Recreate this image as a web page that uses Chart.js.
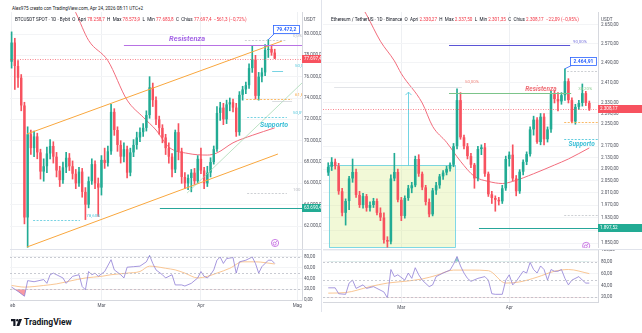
<!DOCTYPE html>
<html lang="it">
<head>
<meta charset="utf-8">
<title>BTCUSDT / ETHUSDT 1D</title>
<script src="https://cdn.jsdelivr.net/npm/chart.js@4.4.1/dist/chart.umd.min.js"></script>
<style>
  html, body { margin: 0; padding: 0; background: #fff; }
  body { width: 642px; height: 333px; position: relative; overflow: hidden; font-family: Roboto, "Noto Sans", sans-serif; color: #131722; }
  canvas { position: absolute; }
  .txt { position: absolute; white-space: nowrap; font-size: 4.6px; line-height: 6px; z-index: 5; }
  .dn { color: #f23645; }
  .sep { position: absolute; background: #e0e3eb; z-index: 4; }
  .logo { position: absolute; left: 11px; top: 317px; display: flex; align-items: center; gap: 2px; font-weight: 700; font-size: 8.5px; z-index: 5; }
</style>
</head>
<body>
<canvas id="btcPrice" width="311" height="238" style="left:10px;top:12px"></canvas>
<canvas id="btcRsi" width="311" height="60" style="left:10px;top:250px"></canvas>
<canvas id="ethPrice" width="319" height="236" style="left:323px;top:12px"></canvas>
<canvas id="ethRsi" width="319" height="62" style="left:323px;top:250px"></canvas>

<div class="sep" style="left:10px;top:249px;width:311px;height:1px"></div>
<div class="sep" style="left:323px;top:249px;width:319px;height:1px"></div>
<div class="sep" style="left:321px;top:0;width:1px;height:312px"></div>

<div class="txt" style="left:12px;top:6px">Alex975 creato con TradingView.com, Apr 24, 2026 08:11 UTC+2</div>
<div class="txt" style="left:15px;top:17px">BTCUSDT SPOT · 1D · Bybit &nbsp;O&nbsp; Apri <span class="dn">78.258,7</span> &nbsp;H&nbsp; Max <span class="dn">78.573,9</span> &nbsp;L&nbsp; Min <span class="dn">77.683,8</span> &nbsp;C&nbsp; Chius <span class="dn">77.697,4 &nbsp;−561,3 (−0,72%)</span></div>
<div class="txt" style="left:331px;top:17px">Ethereum / TetherUS · 1D · Binance &nbsp;O&nbsp; Apri <span class="dn">2.330,27</span> &nbsp;H&nbsp; Max <span class="dn">2.337,50</span> &nbsp;L&nbsp; Min <span class="dn">2.301,35</span> &nbsp;C&nbsp; Chius <span class="dn">2.308,17 &nbsp;−22,09 (−0,95%)</span></div>
<div class="txt" style="left:304px;top:17px;color:#50535e">USDT</div>
<div class="txt" style="left:601px;top:17px;color:#50535e">USDT</div>
<div class="logo">
  <svg width="11" height="7" viewBox="0 0 11 7"><path d="M0 0h4.5v7H2.3V2.2H0z M8 0h3L8.3 7H5.4z" fill="#131722"/><circle cx="6.3" cy="1.2" r="1.2" fill="#131722"/></svg>
  <span>TradingView</span>
</div>

<script>
const FONT = 'Roboto, "Noto Sans", sans-serif';
const UP = '#22ab94';
const DOWN = '#f7525f';
const AXIS_TEXT = '#50535e';

// ---------- BTCUSDT (Bybit, 1D) ----------
const btcFirstDay = '2026-02-01';
const btcDayCount = 91;
const btcOpen = [77400,79200,77000,75900,73300,62800,70600,69300,70400,68900,67100,67600,68800,69500,68500,67200,66300,67500,68400,67600,66900,66000,67100,65200,64000,66200,67800,66000,65600,68200,67900,69000,72700,71000,69600,68500,69200,67000,68900,69600,70300,70800,71200,72400,75000,73800,72000,71200,70300,69300,68500,67300,70800,69000,66600,66000,66500,67000,66200,68300,67200,66000,67000,68000,69200,72600,73100,72000,73400,73600,73100,70800,74300,74800,75200,76800,77600,74200,76000,76400,78500,78600,78258.7];
const btcHigh = [80200,79600,77500,76200,73600,71300,71000,70900,70700,69200,68300,69400,70100,69900,68900,67600,68000,68900,68800,68100,67300,67500,67400,65600,66600,68300,68100,66500,68600,69300,69500,73400,73000,71300,70000,69800,69500,69300,70100,70800,71200,71600,72800,76000,75400,74100,72300,71500,70600,69800,68800,71000,71600,69300,67000,66800,67300,67400,68600,69300,67500,67600,68400,69500,73200,73600,73500,73800,74000,73900,73500,74600,75100,75500,77200,78900,78000,76400,76800,79000,79472.2,78900,78573.9];
const btcLow = [76800,74800,75000,72800,62200,60000,68700,68500,68300,66400,66200,67000,68300,67900,66600,65700,66000,67000,67200,66400,65500,65700,64700,62600,63700,65900,65500,62900,64900,67400,67600,68700,70500,69000,67900,68000,66500,66700,68500,69200,69900,70400,70900,72100,73200,71500,70600,69800,68700,67900,66600,67000,68200,66000,65500,65400,65200,65900,66000,66900,65500,65700,66600,67800,69000,71900,71500,71600,72800,72700,70400,70500,73800,74400,74900,76400,73900,73800,75500,76100,77800,78000,77683.8];
const btcClose = [79200,77000,75900,73300,62800,70600,69300,70400,68900,67100,67600,68800,69500,68500,67200,66300,67500,68400,67600,66900,66000,67100,65200,64000,66200,67800,66000,65600,68200,67900,69000,72700,71000,69600,68500,69200,67000,68900,69600,70300,70800,71200,72400,75000,73800,72000,71200,70300,69300,68500,67300,70800,69000,66600,66000,66500,67000,66200,68300,67200,66000,67000,68000,69200,72600,73100,72000,73400,73600,73100,70800,74300,74800,75200,76800,77600,74200,76000,76400,78500,78600,78258.7,77697.4];
const btcEmaDay = [14,20,24,30,36,41,45,49,55,61,64,69,75,82];
const btcEmaVal = [85500,82000,79400,77500,73800,72200,71000,69400,68800,68650,68850,69800,70500,71200];
const btcRsiDay = [0,2,4,5,7,10,11,12,13,16,17,19,21,22,23,24,25,26,27,29,31,32,34,35,36,38,40,42,43,44,45,47,48,50,51,53,54,56,58,59,60,61,62,63,64,65,66,67,69,70,71,73,75,76,77,78,80,81,82];
const btcRsiVal = [24,16,7,36,34,38,31,47,50,41,31,44,47,25,19,53,47,50,44,53,75,56,47,41,61,62,63,71,83,68,56,47,41,47,28,28,26,31,41,53,44,41,47,56,74,80,68,77,79,50,71,74,80,68,50,62,74,74,68];
const btcRsiMaDay = [0,4,7,10,14,18,23,28,31,36,40,43,45,48,51,54,58,61,64,68,72,76,82];
const btcRsiMaVal = [27,24,25,27,30,35,41,44,47,50,53,63,62,59,56,50,41,44,50,59,71,71,67];
const btcPriceTicks = [62000,64000,66000,68000,70000,72000,74000,76000,78000,80000];
const btcRsiTicks = [0,20,40,60,80];
const btcMonthDay = [0,28,59,89];
const btcMonthName = ['Feb','Mar','Apr','Mag'];

// ---------- ETHUSDT (Binance, 1D) ----------
const ethFirstDay = '2026-02-07';
const ethDayCount = 79;
const ethFirstBar = 1;
const ethOpen = [2078,2098,2115,2100,2015,1945,1983,2058,2080,2003,1970,1999,1961,1970,1983,1945,1930,1860,1855,2058,2080,1987,1935,1993,2025,2035,2125,2074,2028,1980,1940,2018,2035,2065,2078,2091,2105,2170,2341,2202,2170,2135,2105,2058,2160,2166,2074,2005,1993,1987,1982,2025,2125,2140,2058,2015,2081,2115,2142,2231,2267,2185,2278,2195,2231,2364,2345,2336,2360,2415,2341,2260,2315,2330,2368,2330.27];
const ethHigh = [2112,2130,2125,2110,2025,1990,2065,2125,2090,2015,2008,2005,1980,1992,1990,1961,1945,1870,2070,2145,2090,1995,2000,2035,2045,2135,2140,2080,2035,1990,2025,2045,2072,2085,2100,2112,2180,2385,2370,2210,2180,2145,2110,2170,2175,2180,2080,2015,2000,1995,2035,2135,2150,2175,2068,2088,2122,2150,2240,2280,2275,2290,2290,2240,2375,2378,2370,2370,2464.91,2425,2350,2325,2340,2404,2375,2337.5];
const ethLow = [2068,2085,2090,2005,1935,1906,1955,2045,1995,1962,1960,1950,1950,1962,1938,1920,1850,1838,1848,2050,1980,1920,1928,1985,2010,2030,2065,2020,1970,1932,1935,2005,2025,2055,2070,2083,2098,2160,2195,2160,2125,2095,2025,2050,2140,2065,1998,1975,1950,1970,1975,2018,2100,2050,2000,2008,2070,2105,2135,2210,2180,2175,2175,2185,2220,2330,2300,2325,2340,2330,2255,2250,2305,2318,2320,2301.35];
const ethClose = [2098,2115,2100,2015,1945,1983,2058,2080,2003,1970,1999,1961,1970,1983,1945,1930,1860,1855,2058,2080,1987,1935,1993,2025,2035,2125,2074,2028,1980,1940,2018,2035,2065,2078,2091,2105,2170,2341,2202,2170,2135,2105,2058,2160,2166,2074,2005,1993,1987,1982,2025,2125,2140,2058,2015,2081,2115,2142,2231,2267,2185,2278,2195,2231,2364,2345,2336,2360,2415,2341,2260,2315,2330,2368,2330.27,2308.17];
const ethEmaDay = [8,12,16,20,22,28,31,35,39,43,47,51,54,60,66,70,76];
const ethEmaVal = [2800,2694,2579,2497,2445,2330,2242,2184,2117,2065,2048,2041,2048,2074,2104,2125,2164];
const ethRsiDay = [1,3,4,6,7,8,9,11,12,14,15,17,18,19,20,21,23,24,25,26,27,28,30,31,32,34,36,37,38,39,40,41,42,44,46,47,48,49,51,52,53,54,55,57,58,59,60,61,62,63,64,65,66,67,68,69,70,71,73,74,75,76];
const ethRsiVal = [36,36,26,25,44,49,35,41,35,38,35,29,19,67,55,58,49,61,52,70,58,49,38,41,55,61,66,76,89,73,61,52,47,52,55,49,26,25,25,49,58,41,47,64,61,79,67,61,73,67,49,67,64,64,67,52,41,49,55,49,44,44];
const ethRsiMaDay = [1,6,13,18,23,28,32,37,42,47,52,56,61,66,70,76];
const ethRsiMaVal = [27,28,38,44,47,51,57,66,66,65,44,46,54,64,67,60];
const ethPriceTicks = [1850,1890,1930,1970,2010,2050,2090,2130,2170,2250,2290,2330,2410,2490,2570,2650];
const ethRsiTicks = [20,40,60,80,100];
const ethMonthDay = [22,53];
const ethMonthName = ['Mar','Apr'];

// drawings on top of each pane, in (day index, price) coordinates
const btcMarks = [
  { kind: 'seg', x1: 4.8, y1: 70625, x2: 84.3, y2: 79344, color: '#f9a73e', width: 1 },
  { kind: 'seg', x1: 4.8, y1: 60031, x2: 83.0, y2: 68750, color: '#f9a73e', width: 1 },
  { kind: 'seg', x1: 54.7, y1: 65094, x2: 90.5, y2: 75406, color: '#9fd6aa', width: 0.7 },
  { kind: 'hline', y: 78969, x1: 35, color: '#b872e4', width: 1 },
  { kind: 'text', x: 54.7, y: 79480, text: 'Resistenza', color: '#a566e6', font: 'italic bold 7.5px ' + FONT, align: 'center' },
  { kind: 'hline', y: 63690.4, x1: 46.2, color: '#26a69a', width: 1.1 },
  { kind: 'hline', y: 62563, x1: 6.7, x2: 21.3, color: '#55c8dc', width: 0.8, dash: [2, 1.5] },
  { kind: 'text', x: 23.3, y: 62940, text: '78,60%', color: '#55c8dc', font: '4.4px ' + FONT },
  { kind: 'hline', y: 65094, x1: 73.4, x2: 85.8, color: '#b8bbc2', width: 0.7, dash: [2, 1.5] },
  { kind: 'text', x: 87.7, y: 65400, text: '100', color: '#b8bbc2', font: '4.4px ' + FONT },
  { kind: 'hline', y: 79438, x1: 72.7, x2: 85.8, color: '#b8bbc2', width: 0.7, dash: [2, 1.5] },
  { kind: 'text', x: 87.7, y: 79800, text: '0,0%', color: '#b8bbc2', font: '4.4px ' + FONT },
  { kind: 'hline', y: 76531, x1: 81.2, x2: 84.6, color: '#55c8dc', width: 0.8 },
  { kind: 'text', x: 88.3, y: 77000, text: '50,0%', color: '#55c8dc', font: '4.4px ' + FONT },
  { kind: 'hline', y: 73906, x1: 73.1, x2: 87.4, color: '#f9a73e', width: 0.8, dash: [2, 1.5] },
  { kind: 'hline', y: 73719, x1: 81.2, x2: 87.4, color: '#c3c6cc', width: 0.6 },
  { kind: 'text', x: 88.3, y: 74300, text: '61,8%', color: '#f9a73e', font: '4.4px ' + FONT },
  { kind: 'hline', y: 72219, x1: 73.4, x2: 85.8, color: '#55c8dc', width: 0.8, dash: [2, 1.5] },
  { kind: 'text', x: 87.7, y: 72600, text: '50,0%', color: '#55c8dc', font: '4.4px ' + FONT },
  { kind: 'text', x: 81.8, y: 71470, text: 'Supporto', color: '#3bbfd6', font: 'italic bold 7px ' + FONT, align: 'center' },
  { kind: 'hline', y: 77697.4, color: '#f7525f', width: 0.7, dash: [1, 1.5] },
  { kind: 'icon', x: 82.1, y: 60406, color: '#c062e0', free: true },
  { kind: 'callout', x: 85.5, y: 80469, tx: 80, ty: 79472.2, text: '79.472,2', free: true },
  { kind: 'tag', y: 77697.4, text: '77.697,4', bg: '#f7525f', free: true },
  { kind: 'tag', y: 63690.4, text: '63.690,4', bg: '#22ab94', free: true }
];

const ethMarks = [
  { kind: 'rect', x1: 1.2, y1: 2104, x2: 37.4, y2: 1838, fill: 'rgba(214,236,130,0.32)', color: '#62cfe0', width: 0.8, under: true },
  { kind: 'hline', y: 2563, x1: 35.7, x2: 70.5, color: '#5b55d6', width: 1 },
  { kind: 'text', x: 71.3, y: 2575, text: '90,00%', color: '#7c78de', font: '4.4px ' + FONT },
  { kind: 'hline', y: 2456, x1: 69.6, color: '#b8bbc2', width: 0.7, dash: [2, 1.5] },
  { kind: 'hline', y: 2392, x1: 2.7, x2: 39.4, color: '#d6d8de', width: 0.7 },
  { kind: 'text', x: 40.3, y: 2412, text: '50,00%', color: '#f28b82', font: '4.4px ' + FONT },
  { kind: 'hline', y: 2369, x1: 35.7, x2: 70.8, color: '#7cc48a', width: 1 },
  { kind: 'text', x: 62.1, y: 2382, text: 'Resistenza', color: '#ef6b73', font: 'italic bold 6.5px ' + FONT, align: 'center' },
  { kind: 'text', x: 72.8, y: 2385, text: '38,20%', color: '#8fcf97', font: '4.4px ' + FONT },
  { kind: 'arrow', x: 23.9, y1: 2101, y2: 2372, color: '#62cfe0', width: 0.9 },
  { kind: 'hline', y: 1897.52, x1: 44.3, color: '#26a69a', width: 1.1 },
  { kind: 'hline', y: 1938, x1: 68.8, color: '#b8bbc2', width: 0.7, dash: [2, 1.5] },
  { kind: 'hline', y: 2258, x1: 68.8, color: '#f9a73e', width: 0.8, dash: [2, 1.5] },
  { kind: 'hline', y: 2196, x1: 68.8, color: '#3bbfd6', width: 0.8, dash: [2, 1.5] },
  { kind: 'text', x: 73.8, y: 2175, text: 'Supporto', color: '#3bbfd6', font: 'italic bold 6.5px ' + FONT, align: 'center' },
  { kind: 'hline', y: 2308.17, color: '#f7525f', width: 0.7, dash: [1, 1.5] },
  { kind: 'icon', x: 75.1, y: 1842, color: '#c062e0', free: true },
  { kind: 'callout', x: 74.1, y: 2497, tx: 69, ty: 2464.91, text: '2.464,91', free: true },
  { kind: 'tag', y: 2308.17, text: '2.308,17', bg: '#f7525f', free: true },
  { kind: 'tag', y: 1897.52, text: '1.897,52', bg: '#22ab94', free: true }
];

const rsiBands = [80, 50, 20];

// ---------- helpers ----------
function itNum(v, dec) {
  const parts = Math.abs(v).toFixed(dec).split('.');
  const int = parts[0].replace(/\B(?=(\d{3})+(?!\d))/g, '.');
  return (v < 0 ? '−' : '') + int + (parts[1] ? ',' + parts[1] : '');
}

function dayLabels(first, count) {
  const out = [];
  const d = new Date(first + 'T00:00:00Z');
  for (let i = 0; i < count; i++) {
    out.push(d.toISOString().slice(0, 10));
    d.setUTCDate(d.getUTCDate() + 1);
  }
  return out;
}

const overlays = {};

function drawMarks(chart, items) {
  const ctx = chart.ctx, ca = chart.chartArea;
  const xs = chart.scales.x, ys = chart.scales.y;
  const X = v => (v === undefined || v === null) ? null : xs.getPixelForValue(v);
  const Y = v => ys.getPixelForValue(v);
  items.forEach(it => {
    ctx.save();
    if (!it.free) {
      ctx.beginPath();
      ctx.rect(ca.left, ca.top, ca.right - ca.left, ca.bottom - ca.top);
      ctx.clip();
    }
    ctx.strokeStyle = it.color || '#000';
    ctx.fillStyle = it.color || '#000';
    ctx.lineWidth = it.width || 1;
    ctx.setLineDash(it.dash || []);
    if (it.kind === 'seg') {
      ctx.beginPath();
      ctx.moveTo(X(it.x1), Y(it.y1));
      ctx.lineTo(X(it.x2), Y(it.y2));
      ctx.stroke();
    } else if (it.kind === 'hline') {
      const y = Math.round(Y(it.y)) + 0.5;
      const a = X(it.x1), b = X(it.x2);
      ctx.beginPath();
      ctx.moveTo(a === null ? ca.left : a, y);
      ctx.lineTo(b === null ? ca.right : b, y);
      ctx.stroke();
    } else if (it.kind === 'text') {
      ctx.font = it.font;
      ctx.textAlign = it.align || 'left';
      ctx.textBaseline = 'middle';
      ctx.fillText(it.text, X(it.x), Y(it.y));
    } else if (it.kind === 'rect') {
      const x1 = X(it.x1), x2 = X(it.x2), y1 = Y(it.y1), y2 = Y(it.y2);
      ctx.fillStyle = it.fill;
      ctx.fillRect(x1, y1, x2 - x1, y2 - y1);
      ctx.strokeRect(Math.round(x1) + 0.5, Math.round(y1) + 0.5, Math.round(x2 - x1), Math.round(y2 - y1));
    } else if (it.kind === 'arrow') {
      const x = Math.round(X(it.x)) + 0.5, y1 = Y(it.y1), y2 = Y(it.y2);
      ctx.beginPath();
      ctx.moveTo(x, y1); ctx.lineTo(x, y2);
      ctx.moveTo(x - 3, y2 + 3); ctx.lineTo(x, y2); ctx.lineTo(x + 3, y2 + 3);
      ctx.stroke();
    } else if (it.kind === 'icon') {
      const x = X(it.x), y = Y(it.y);
      ctx.lineWidth = 0.8;
      ctx.beginPath(); ctx.arc(x, y, 3.6, 0, Math.PI * 2); ctx.stroke();
      ctx.beginPath(); ctx.arc(x - 0.4, y + 0.6, 1.5, 0, Math.PI * 2); ctx.stroke();
      ctx.beginPath(); ctx.moveTo(x + 0.6, y - 0.6); ctx.lineTo(x + 2, y - 2); ctx.stroke();
    } else if (it.kind === 'callout') {
      ctx.font = 'bold 5px ' + FONT;
      const w = ctx.measureText(it.text).width + 6, h = 8;
      const cx = X(it.x), cy = Y(it.y);
      const left = Math.round(cx - w / 2) + 0.5, top = Math.round(cy - h / 2) + 0.5;
      ctx.strokeStyle = '#2962ff';
      ctx.lineWidth = 0.8;
      ctx.beginPath();
      ctx.moveTo(left + 1, top + h);
      ctx.lineTo(X(it.tx), Y(it.ty));
      ctx.stroke();
      ctx.fillStyle = '#fff';
      ctx.fillRect(left, top, w, h);
      ctx.strokeRect(left, top, w, h);
      ctx.fillStyle = '#2962ff';
      ctx.textAlign = 'center';
      ctx.textBaseline = 'middle';
      ctx.fillText(it.text, left + w / 2, top + h / 2 + 0.3);
    } else if (it.kind === 'tag') {
      const y = Math.round(Y(it.y));
      ctx.fillStyle = it.bg;
      ctx.fillRect(ca.right, y - 4, chart.width - ca.right, 8);
      ctx.fillStyle = '#fff';
      ctx.font = '4.6px ' + FONT;
      ctx.textAlign = 'left';
      ctx.textBaseline = 'middle';
      ctx.fillText(it.text, ca.right + 2, y + 0.3);
    }
    ctx.restore();
  });
}

Chart.register({
  id: 'marks',
  beforeDatasetsDraw(chart) { drawMarks(chart, (overlays[chart.canvas.id] || []).filter(i => i.under)); },
  afterDatasetsDraw(chart) { drawMarks(chart, (overlays[chart.canvas.id] || []).filter(i => !i.under && !i.free)); },
  afterDraw(chart) { drawMarks(chart, (overlays[chart.canvas.id] || []).filter(i => i.free)); }
});

function xAxis(monthDay, monthName, withLabels) {
  return {
    type: 'category',
    offset: true,
    grid: { color: '#eef0f3', offset: false, drawTicks: false },
    border: { display: withLabels, color: '#d6d8de' },
    ticks: { display: withLabels, font: { family: FONT, size: 4.6 }, color: AXIS_TEXT, padding: 3, maxRotation: 0, autoSkip: false, callback: (v, i) => monthName[i] },
    afterBuildTicks: sc => { sc.ticks = monthDay.map(v => ({ value: v })); },
    afterFit: sc => { sc.height = withLabels ? 10 : 0; sc.paddingLeft = 0; sc.paddingRight = 0; }
  };
}

function yAxis(type, min, max, ticks, dec, width, pad) {
  return {
    type, position: 'right', min, max, bounds: 'data',
    grid: { color: '#f3f4f6', drawTicks: false },
    border: { display: true, color: '#d6d8de' },
    ticks: { font: { family: FONT, size: 4.6 }, color: AXIS_TEXT, padding: pad, autoSkip: false, callback: v => itNum(v, dec) },
    afterBuildTicks: sc => { sc.ticks = ticks.map(v => ({ value: v })); },
    afterFit: sc => { sc.width = width; sc.paddingTop = 0; sc.paddingBottom = 0; }
  };
}

function baseOptions(scales) {
  return {
    responsive: false, animation: false, devicePixelRatio: 1, events: [],
    layout: { padding: 0 },
    plugins: { legend: { display: false }, tooltip: { enabled: false } },
    scales
  };
}

function priceChart(id, s) {
  const labels = dayLabels(s.firstDay, s.dayCount);
  const at = i => labels[s.firstBar + i];
  const colors = s.open.map((o, i) => s.close[i] >= o ? UP : DOWN);
  const wicks = s.open.map((o, i) => ({ x: at(i), y: [s.low[i], s.high[i]] }));
  const bodies = s.open.map((o, i) => ({ x: at(i), y: [o, s.close[i]] }));
  const ema = s.emaDay.map((d, k) => ({ x: labels[d], y: s.emaVal[k] }));
  overlays[id] = s.marks;
  new Chart(document.getElementById(id), {
    type: 'bar',
    data: {
      labels,
      datasets: [
        { type: 'line', data: ema, borderColor: '#f26d7d', borderWidth: 1, pointRadius: 0, cubicInterpolationMode: 'monotone', spanGaps: true, order: 3 },
        { data: wicks, backgroundColor: colors, barThickness: 1, grouped: false, order: 2 },
        { data: bodies, backgroundColor: colors, barPercentage: 0.75, categoryPercentage: 1, grouped: false, order: 1 }
      ]
    },
    options: baseOptions({
      x: xAxis(s.monthDay, s.monthName, false),
      y: yAxis(s.scaleType, s.min, s.max, s.ticks, s.dec, s.axisWidth, s.pad)
    })
  });
}

function rsiChart(id, s) {
  const labels = dayLabels(s.firstDay, s.dayCount);
  const rsi = s.rsiDay.map((d, k) => ({ x: labels[d], y: s.rsiVal[k] }));
  const ma = s.maDay.map((d, k) => ({ x: labels[d], y: s.maVal[k] }));
  overlays[id] = rsiBands.map(v => ({ kind: 'hline', y: v, color: '#b2b5be', width: 0.7, dash: [2, 2] }));
  new Chart(document.getElementById(id), {
    type: 'line',
    data: {
      labels,
      datasets: [
        { data: rsi, borderColor: '#8f7ed6', borderWidth: 0.8, pointRadius: 0, spanGaps: true },
        { data: ma, borderColor: '#f8b878', borderWidth: 0.8, pointRadius: 0, spanGaps: true, cubicInterpolationMode: 'monotone' },
        { data: rsi, borderWidth: 0, pointRadius: 0, spanGaps: true, fill: { target: { value: 80 }, above: 'rgba(34,171,148,0.5)', below: 'rgba(0,0,0,0)' } },
        { data: rsi, borderWidth: 0, pointRadius: 0, spanGaps: true, fill: { target: { value: 20 }, above: 'rgba(0,0,0,0)', below: 'rgba(242,54,69,0.5)' } }
      ]
    },
    options: baseOptions({
      x: xAxis(s.monthDay, s.monthName, true),
      y: yAxis('linear', s.min, s.max, s.ticks, 2, s.axisWidth, s.pad)
    })
  });
}

priceChart('btcPrice', {
  firstDay: btcFirstDay, dayCount: btcDayCount, firstBar: 0,
  open: btcOpen, high: btcHigh, low: btcLow, close: btcClose,
  emaDay: btcEmaDay, emaVal: btcEmaVal, marks: btcMarks,
  monthDay: btcMonthDay, monthName: btcMonthName,
  scaleType: 'linear', min: 59750, max: 82062.5, ticks: btcPriceTicks, dec: 1, axisWidth: 19, pad: 2
});
rsiChart('btcRsi', {
  firstDay: btcFirstDay, dayCount: btcDayCount,
  rsiDay: btcRsiDay, rsiVal: btcRsiVal, maDay: btcRsiMaDay, maVal: btcRsiMaVal,
  monthDay: btcMonthDay, monthName: btcMonthName,
  min: 0, max: 93, ticks: btcRsiTicks, axisWidth: 19, pad: 2
});
priceChart('ethPrice', {
  firstDay: ethFirstDay, dayCount: ethDayCount, firstBar: ethFirstBar,
  open: ethOpen, high: ethHigh, low: ethLow, close: ethClose,
  emaDay: ethEmaDay, emaVal: ethEmaVal, marks: ethMarks,
  monthDay: ethMonthDay, monthName: ethMonthName,
  scaleType: 'logarithmic', min: 1835.6, max: 2706, ticks: ethPriceTicks, dec: 2, axisWidth: 44, pad: 3
});
rsiChart('ethRsi', {
  firstDay: ethFirstDay, dayCount: ethDayCount,
  rsiDay: ethRsiDay, rsiVal: ethRsiVal, maDay: ethRsiMaDay, maVal: ethRsiMaVal,
  monthDay: ethMonthDay, monthName: ethMonthName,
  min: 12, max: 100, ticks: ethRsiTicks, axisWidth: 44, pad: 3
});
</script>
</body>
</html>
